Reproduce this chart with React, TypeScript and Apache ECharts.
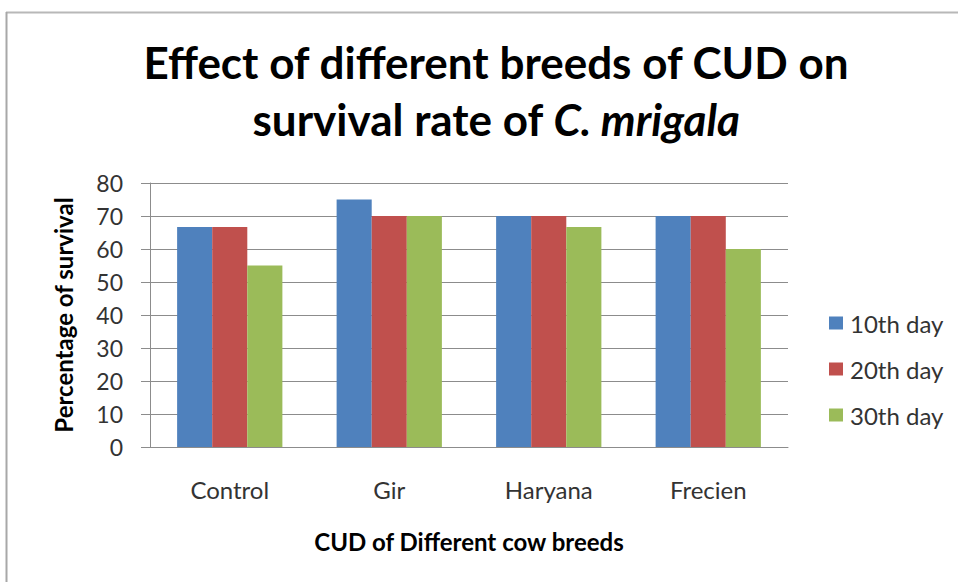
import React, { useEffect, useRef } from "react";
import * as echarts from "echarts";

const categories = ["Control", "Gir", "Haryana", "Frecien"];
const seriesNames = ["10th day", "20th day", "30th day"];
const day10 = [66.7, 75, 70, 70];
const day20 = [66.7, 70, 70, 70];
const day30 = [55, 70, 66.7, 60];
const colors = ["#4F81BD", "#C0504D", "#9BBB59"];

const FONT = "Lato";

export default function App() {
  const ref = useRef<HTMLDivElement>(null);
  useEffect(() => {
    if (!ref.current) return;
    const chart = echarts.init(ref.current, null, { renderer: "svg" });
    const values = [day10, day20, day30];
    chart.setOption({
      animation: false,
      backgroundColor: "#ffffff",
      title: {
        text: "{b|Effect of different breeds of CUD on}\n{b|survival rate of }{i|C. mrigala}",
        left: 491,
        textAlign: "center",
        top: 28,
        textStyle: {
          rich: {
            b: { fontFamily: FONT, fontWeight: "bold", fontSize: 44, lineHeight: 57, color: "#000" },
            i: { fontFamily: FONT, fontWeight: "bold", fontStyle: "italic", fontSize: 44, lineHeight: 57, color: "#000" },
          },
        },
      },
      graphic: [
        { type: "line", shape: { x1: 6, y1: 12.5, x2: 958, y2: 12.5 }, style: { stroke: "#b8b8b8", lineWidth: 2 } },
        { type: "line", shape: { x1: 6.5, y1: 12, x2: 6.5, y2: 582 }, style: { stroke: "#a8a8a8", lineWidth: 2 } },
      ],
      legend: {
        orient: "vertical",
        left: 829,
        top: 311,
        itemWidth: 14,
        itemHeight: 13,
        itemGap: 22,
        icon: "rect",
        padding: 0,
        textStyle: { fontFamily: FONT, fontSize: 24, color: "#333", padding: [0, 0, 0, 2] },
        data: seriesNames,
      },
      grid: { left: 150, right: 170, top: 183, bottom: 135, containLabel: false },
      xAxis: {
        type: "category",
        data: categories,
        name: "CUD of Different cow breeds",
        nameLocation: "middle",
        nameGap: 82,
        nameTextStyle: { fontFamily: FONT, fontWeight: "bold", fontSize: 24, color: "#000" },
        axisLine: { lineStyle: { color: "#8c8c8c", width: 1 } },
        axisTick: { show: false },
        axisLabel: { fontFamily: FONT, fontSize: 24, color: "#333", margin: 30 },
      },
      yAxis: {
        type: "value",
        min: 0,
        max: 80,
        interval: 10,
        name: "Percentage of survival",
        nameLocation: "middle",
        nameGap: 75,
        nameTextStyle: { fontFamily: FONT, fontWeight: "bold", fontSize: 24, color: "#000" },
        axisLine: { show: true, lineStyle: { color: "#8c8c8c", width: 1 } },
        axisTick: { show: true, length: 9, lineStyle: { color: "#8c8c8c" } },
        axisLabel: { fontFamily: FONT, fontSize: 23, color: "#333", margin: 27 },
        splitLine: { lineStyle: { color: "#8c8c8c", width: 1 } },
      },
      series: seriesNames.map((name, i) => ({
        type: "bar",
        name,
        data: values[i],
        itemStyle: { color: colors[i] },
        barGap: "0%",
        barCategoryGap: "34%",
      })),
    });
    return () => chart.dispose();
  }, []);
  return <div ref={ref} style={{ position: "fixed", left: 0, top: 0, width: 958, height: 582 }} />;
}
